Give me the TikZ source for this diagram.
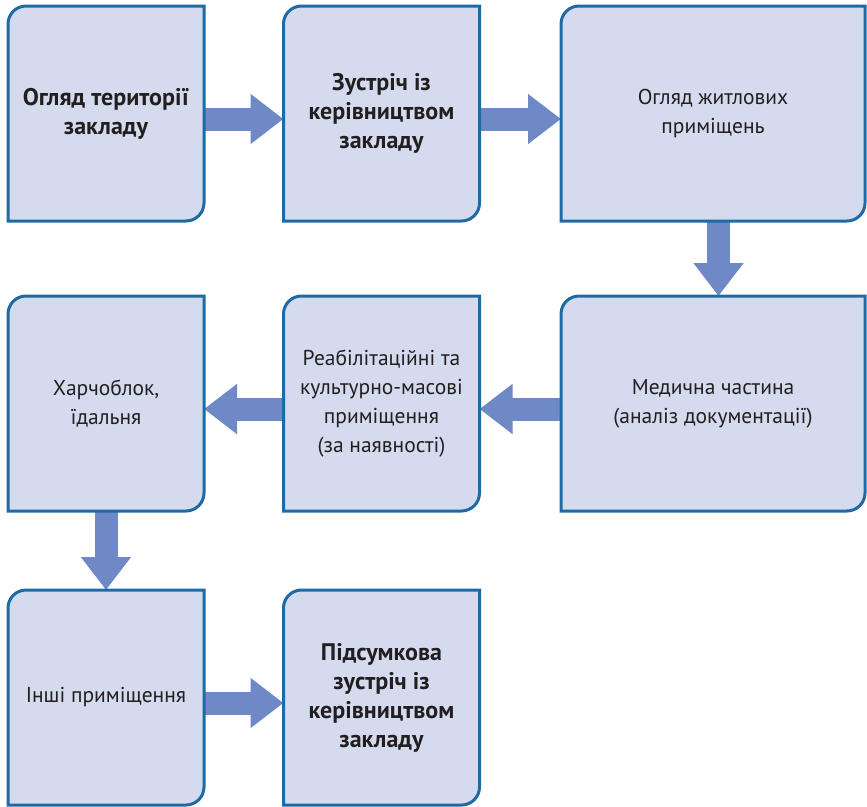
\documentclass[tikz,border=0pt]{standalone}
\usepackage{fontspec}
\setmainfont{PT Sans}
\usetikzlibrary{arrows.meta,backgrounds}
\definecolor{fondbloc}{HTML}{D5DBEE}
\definecolor{bordbloc}{HTML}{1F6AA5}
\definecolor{couleurfleche}{HTML}{6F89C6}
\definecolor{texte}{HTML}{231F20}

\begin{document}
\begin{tikzpicture}[x=1pt,y=1pt,
  bloc/.style={minimum width=196pt, minimum height=215pt, inner sep=0pt, outer sep=0pt,
    align=center, text=texte, font=\fontsize{21.5}{29}\selectfont},
  blocgras/.style={bloc, font=\fontsize{24}{29}\selectfont\bfseries},
  fleche/.style={draw=couleurfleche, line width=23pt, -{Triangle[length=33pt,width=48pt]}}]
  % Définition des paramètres
  \def\rayon{18pt} % rayon des coins arrondis
  \def\dec{5.5pt} % décalage des flèches
  \useasboundingbox (0,0) rectangle (867,-806);

  % Première ligne
  \node[blocgras] (ohliad) at (106,-113.5) {Огляд території\\закладу};
  \node[blocgras] (zustrich) at (381.5,-113.5) {Зустріч із\\керівництвом\\закладу};
  \node[bloc, minimum width=304pt] (zhytlo) at (713,-113.5) {Огляд житлових\\приміщень};
  % Deuxième ligne
  \node[bloc, minimum width=304pt] (medychna) at (713,-403.5) {Медична частина\\(аналіз документації)};
  \node[bloc] (reabil) at (381.5,-403.5) {Реабілітаційні та\\культурно-масові\\приміщення\\(за наявності)};
  \node[bloc] (kharch) at (106,-403.5) {Харчоблок,\\їдальня};
  % Troisième ligne
  \node[bloc] (inshi) at (106,-697.5) {Інші приміщення};
  \node[blocgras] (pidsumok) at (381.5,-697.5) {Підсумкова\\зустріч із\\керівництвом\\закладу};

  \begin{scope}[on background layer]
    % Dessin des flèches
    \draw[fleche] ([yshift=-\dec]ohliad.east) -- ([yshift=-\dec]zustrich.west);
    \draw[fleche] ([yshift=-\dec]zustrich.east) -- ([yshift=-\dec]zhytlo.west);
    \draw[fleche] ([xshift=\dec]zhytlo.south) -- ([xshift=\dec]medychna.north);
    \draw[fleche] ([yshift=-\dec]medychna.west) -- ([yshift=-\dec]reabil.east);
    \draw[fleche] ([yshift=-\dec]reabil.west) -- ([yshift=-\dec]kharch.east);
    \draw[fleche] (kharch.south) -- (inshi.north);
    \draw[fleche] ([yshift=-\dec]inshi.east) -- ([yshift=-\dec]pidsumok.west);
    % Dessin des blocs
    \foreach \n in {ohliad,zustrich,zhytlo,medychna,reabil,kharch,inshi,pidsumok}
      \draw[draw=bordbloc, fill=fondbloc, line width=3pt]
        (\n.south west) -- ([yshift=-\rayon]\n.north west)
        arc[start angle=180, end angle=90, radius=\rayon] -- (\n.north east)
        -- ([yshift=\rayon]\n.south east)
        arc[start angle=0, end angle=-90, radius=\rayon] -- cycle;
  \end{scope}
\end{tikzpicture}
\end{document}
